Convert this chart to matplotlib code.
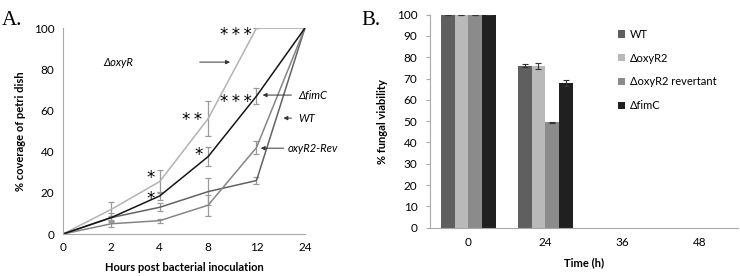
import matplotlib.pyplot as plt

plt.rcParams['font.family'] = ['Lato', 'DejaVu Sans']

# Panel A data
hours = ['0', '2', '4', '8', '12', '24']
oxyR = [0, 12, 25.5, 56, 100, 100]
oxyR_err = [0, 3.5, 5.5, 8.5, 0, 0]
fimC = [0, 8, 18.5, 37.6, 67, 100]
fimC_err = [0, 1, 2, 4.5, 4, 0]
wt = [0, 8, 13, 20.6, 26, 100]
wt_err = [0, 2, 2, 6.5, 1.5, 0]
rev = [0, 5, 6.5, 14, 42, 100]
rev_err = [0, 1.5, 1, 5, 3, 0]

# Panel B data
times = ['0', '24', '36', '48']
strains = ['WT', '\u0394oxyR2', '\u0394oxyR2 revertant', '\u0394fimC']
viability = [[100, 76, 0, 0],
             [100, 76, 0, 0],
             [100, 49.5, 0, 0],
             [100, 68, 0, 0]]
viability_err = [[0, 0.8, 0, 0],
                 [0, 1.3, 0, 0],
                 [0, 0.3, 0, 0],
                 [0, 1.5, 0, 0]]
bar_colors = ['#5f5f5f', '#b9b9b9', '#8b8b8b', '#202020']

fig = plt.figure(figsize=(7.4, 2.76), dpi=100)

# ---------- Panel A ----------
ax = fig.add_axes([0.085, 0.152, 0.327, 0.746])
x = list(range(len(hours)))
series = [(oxyR, oxyR_err, '#b3b3b3'), (wt, wt_err, '#626262'),
          (rev, rev_err, '#858585'), (fimC, fimC_err, '#151515')]
for vals, err, c in series:
    ax.errorbar(x, vals, yerr=err, color=c, lw=1.1, ecolor='#9a9a9a',
                elinewidth=0.9, capsize=2, capthick=0.9)
ax.set_xlim(0, 5)
ax.set_ylim(0, 100)
ax.set_xticks(x)
ax.set_xticklabels(hours)
ax.set_yticks([0, 20, 40, 60, 80, 100])
ax.tick_params(length=0, labelsize=8.5, pad=6)
for s in ['top', 'right']:
    ax.spines[s].set_visible(False)
for s in ['left', 'bottom']:
    ax.spines[s].set_color('#a8a8a8')
ax.set_xlabel('Hours post bacterial inoculation', fontsize=8, fontweight='bold', labelpad=6)
ax.set_ylabel('% coverage of petri dish', fontsize=8, fontweight='bold', labelpad=6)

arrow = dict(arrowstyle='-|>', color='#333333', lw=0.7, mutation_scale=6)
lab = dict(fontsize=8, style='italic', va='center', ha='left')
ax.annotate('', xy=(3.51, 83.5), xytext=(2.77, 83.5), arrowprops=arrow)
ax.text(0.83, 83.5, '\u0394oxyR', **lab)
ax.annotate('', xy=(4.07, 67.5), xytext=(4.78, 67.5), arrowprops=arrow, annotation_clip=False)
ax.text(4.86, 67.5, '\u0394fimC', clip_on=False, **lab)
ax.annotate('', xy=(4.5, 56.3), xytext=(4.78, 56.3), arrowprops=arrow, annotation_clip=False)
ax.text(4.86, 56.3, 'WT', clip_on=False, **lab)
ax.annotate('', xy=(4.03, 41.7), xytext=(4.62, 41.7), arrowprops=arrow, annotation_clip=False)
ax.text(4.65, 41.7, 'oxyR2-Rev', clip_on=False, **lab)

star = dict(fontsize=12, ha='center', va='center', family='DejaVu Sans')
ts = '\u2009'
ax.text(3.58, 96.5, ts.join('***'), **star)
ax.text(3.58, 64, ts.join('***'), **star)
ax.text(2.67, 55.5, ts.join('**'), **star)
ax.text(2.81, 38.5, '*', **star)
ax.text(1.82, 27, '*', **star)
ax.text(1.82, 17, '*', **star)

fig.text(0.003, 0.91, 'A.', fontsize=15, family='Liberation Serif')

# ---------- Panel B ----------
bx = fig.add_axes([0.581, 0.175, 0.416, 0.772])
w = 0.18
xb = list(range(len(times)))
for i, name in enumerate(strains):
    pos = [p + (i - 1.5) * w for p in xb]
    vals = viability[i][:2]
    errs = viability_err[i][:2]
    bx.bar(pos[:2], vals, w, color=bar_colors[i], label=name,
           yerr=errs, error_kw=dict(ecolor='#333333', elinewidth=0.8, capsize=2, capthick=0.8))
bx.set_xlim(-0.5, 3.5)
bx.set_ylim(0, 100)
bx.set_yticks(range(0, 101, 10))
bx.set_xticks(xb)
bx.set_xticklabels(times)
bx.tick_params(axis='x', length=0, labelsize=8.5, pad=7)
bx.tick_params(axis='y', length=3, labelsize=8.5, color='#a8a8a8', pad=6)
for s in ['top', 'right']:
    bx.spines[s].set_visible(False)
for s in ['left', 'bottom']:
    bx.spines[s].set_color('#a8a8a8')
bx.set_xlabel('Time (h)', fontsize=8, fontweight='bold', labelpad=6)
bx.set_ylabel('% fungal viability', fontsize=8, fontweight='bold', labelpad=6)
bx.legend(loc='upper left', bbox_to_anchor=(0.58, 0.98), frameon=False, fontsize=8,
          handlelength=0.6, handleheight=0.6, handletextpad=0.4, labelspacing=1.15)

fig.text(0.488, 0.91, 'B.', fontsize=15, family='Liberation Serif')

fig.savefig('out.png', dpi=100)
